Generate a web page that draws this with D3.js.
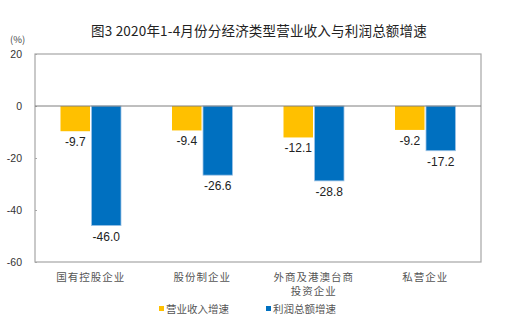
<!DOCTYPE html>
<html><head><meta charset="utf-8">
<script src="https://cdn.jsdelivr.net/npm/d3@7"></script>
<style>body{margin:0;background:#fff}svg{display:block}</style>
</head><body>
<script>
const categories = [["国有控股企业"],["股份制企业"],["外商及港澳台商","投资企业"],["私营企业"]];
const seriesNames = ["营业收入增速","利润总额增速"];
const revenue = [-9.7,-9.4,-12.1,-9.2];
const profit = [-46.0,-26.6,-28.8,-17.2];
const yTicks = [20,0,-20,-40,-60];
const colors = ["#FFC000","#0070C0"];

(function(){
const W=510,H=326;
const svg=d3.select("body").append("svg").attr("width",W).attr("height",H);
const mL=35,mR=481,mT=54,mB=262;
const y=d3.scaleLinear().domain([-60,20]).range([mB,mT]);
const x=d3.scaleBand().domain(d3.range(categories.length)).range([mL,mR]);
const font="Liberation Sans, Arial, Noto Sans CJK SC, sans-serif";
const cjk="Noto Sans CJK SC, sans-serif";

svg.append("text").attr("x",259).attr("y",36).attr("text-anchor","middle")
  .attr("font-family",cjk).attr("font-size",13.5).attr("fill","#222").attr("letter-spacing",0.2)
  .text("图3  2020年1-4月份分经济类型营业收入与利润总额增速");
svg.append("text").attr("x",10).attr("y",43).attr("font-family",cjk).attr("font-size",9.5).attr("fill","#444").text("(%)");

svg.append("rect").attr("x",mL).attr("y",mT).attr("width",mR-mL).attr("height",mB-mT)
  .attr("fill","none").attr("stroke","#a6a6a6").attr("stroke-width",1.2);
const ax=svg.append("g").attr("transform",`translate(${mL},0)`)
  .call(d3.axisRight(y).tickValues(yTicks).tickSize(2).tickFormat(""));
ax.select(".domain").remove();
ax.selectAll("line").attr("stroke","#a6a6a6");
svg.selectAll(".ytl").data(yTicks).join("text").attr("x",22).attr("y",d=>y(d)+4)
  .attr("text-anchor","end").attr("font-family",font).attr("font-size",10.5).attr("fill","#333").text(d=>d);

const bw=29.5, gap=1.5;
const series=[revenue,profit];
series.forEach((vals,si)=>{
  const g=svg.append("g");
  vals.forEach((v,i)=>{
    const cx=x(i)+x.bandwidth()/2;
    const bx= si===0 ? cx-gap/2-bw : cx+gap/2;
    g.append("rect").attr("x",bx).attr("y",y(0)).attr("width",bw).attr("height",y(v)-y(0))
      .attr("fill",colors[si]).attr("stroke",si===1?"#9dc3e6":"none").attr("stroke-width",0.8);
    g.append("text").attr("x",bx+bw/2).attr("y",y(v)+15).attr("text-anchor","middle")
      .attr("font-family",font).attr("font-size",12).attr("fill","#222").text(v.toFixed(1));
  });
});
svg.append("line").attr("x1",mL).attr("x2",mR).attr("y1",y(0)).attr("y2",y(0)).attr("stroke","#7f7f7f").attr("stroke-width",1);

categories.forEach((lines,i)=>{
  const cx=x(i)+x.bandwidth()/2;
  lines.forEach((t,j)=>{
    svg.append("text").attr("x",cx).attr("y",281+j*14).attr("text-anchor","middle")
      .attr("font-family",cjk).attr("font-size",10.5).attr("fill","#555").attr("letter-spacing",1).text(t);
  });
});

const lx=[159,266];
seriesNames.forEach((n,i)=>{
  svg.append("rect").attr("x",lx[i]).attr("y",306).attr("width",5).attr("height",5).attr("fill",colors[i]);
  svg.append("text").attr("x",lx[i]+7).attr("y",313).attr("font-family",cjk).attr("font-size",10.5).attr("fill","#555").text(n);
});
})();
</script>
</body></html>
